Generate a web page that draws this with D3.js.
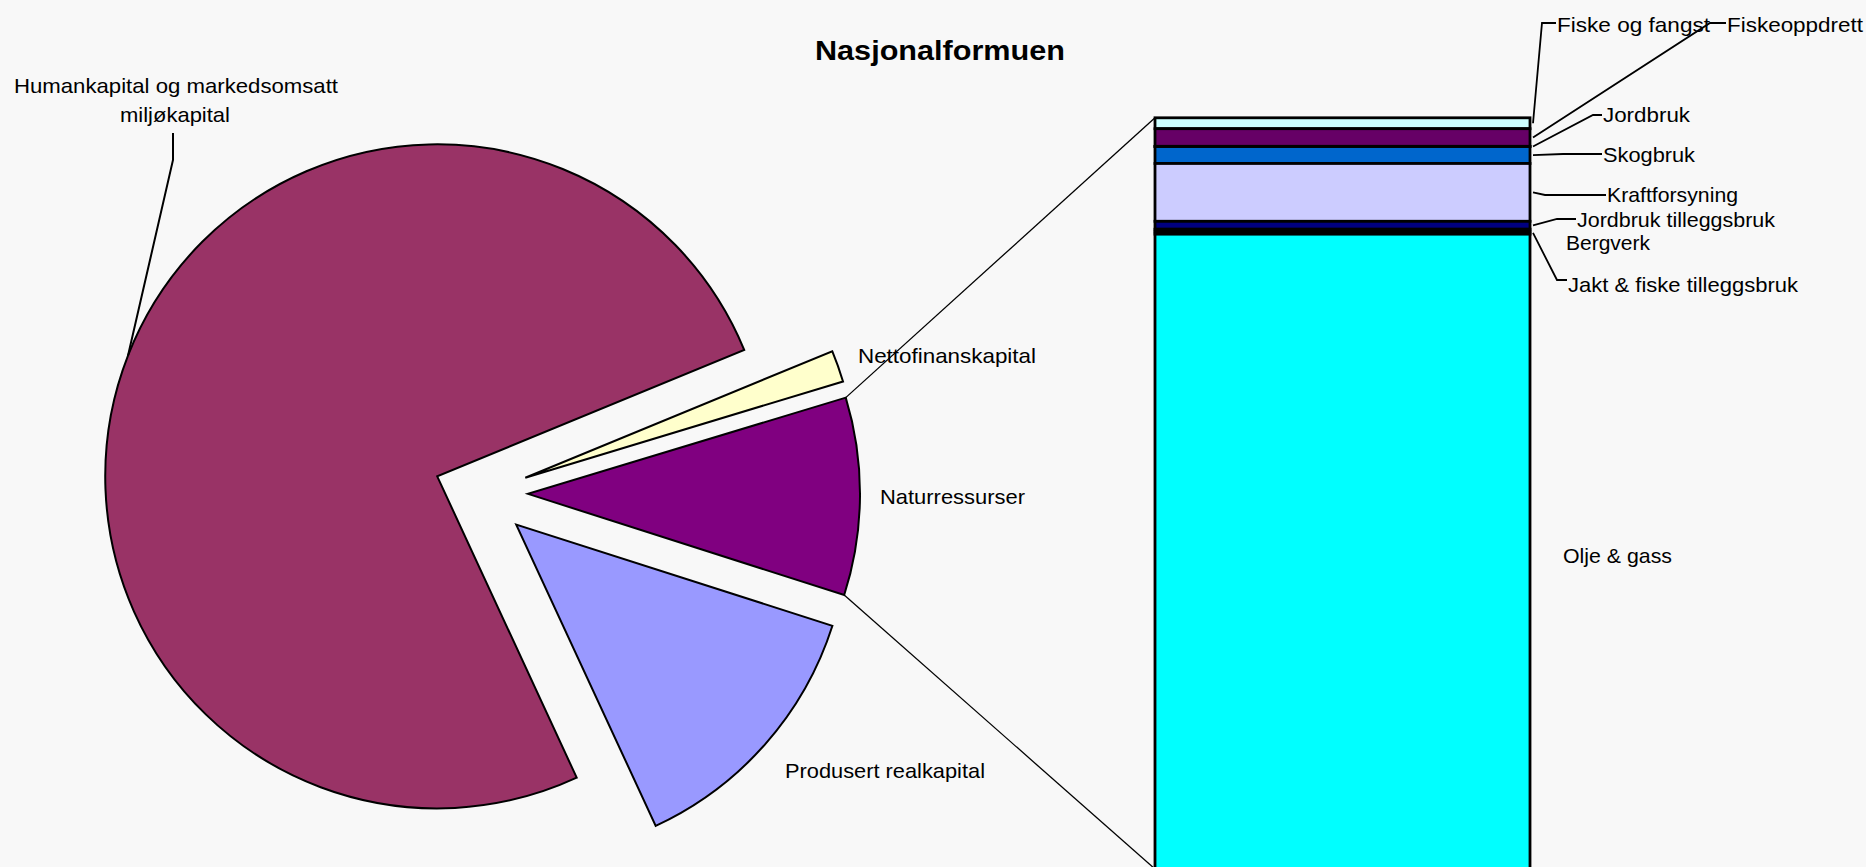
<!DOCTYPE html>
<html><head><meta charset="utf-8">
<script src="https://cdn.jsdelivr.net/npm/d3@7"></script>
<style>html,body{margin:0;padding:0;background:#F8F8F8;overflow:hidden}</style>
</head><body>
<svg id="chart" width="1866" height="867"></svg>
<script>
// ---------- DATA ----------
const title = "Nasjonalformuen";
const pieCategories = ["Naturressurser", "Produsert realkapital", "Humankapital og markedsomsatt miljøkapital", "Nettofinanskapital"];
const pieValues = [9.61, 13.17, 75.68, 1.54];               // % of national wealth
const pieColors = ["#800080", "#9999FF", "#993366", "#FFFFCC"];
const barCategories = ["Fiske og fangst", "Fiskeoppdrett", "Jordbruk", "Skogbruk", "Kraftforsyning",
  "Jordbruk tilleggsbruk", "Bergverk", "Jakt & fiske tilleggsbruk", "Olje & gass"];
const barValues = [1.45, 2.35, 0.03, 2.25, 7.7, 1.05, 0.33, 0.33, 84.5];   // % of Naturressurser
const barColors = ["#CCFFFF", "#660066", "#FF8080", "#0066CC", "#CCCCFF", "#000080", "#FF00FF", "#FFFF00", "#00FFFF"];

// ---------- LAYOUT ----------
const W = 1866, H = 867;
const pieCenter = [481, 493.5], R = 332, explode = 47;
const startDeg = 73.15; // d3 angle where the split slice starts
const barBox = {x0: 1155, x1: 1530, top: 117.8, bottom: 869};
const font = "'Liberation Sans', Arial, sans-serif";
const fs = 21;

const svg = d3.select("#chart");
svg.append("rect").attr("width", W).attr("height", H).attr("fill", "#F8F8F8");

// title
svg.append("text").text(title)
  .attr("x", 815).attr("y", 60).attr("textLength", 250).attr("lengthAdjust", "spacingAndGlyphs")
  .attr("font-family", font).attr("font-weight", "bold").attr("font-size", 27).attr("fill", "#000");

// ---------- PIE ----------
const s0 = startDeg * Math.PI / 180;
const pie = d3.pie().sort(null).value(d => d).startAngle(s0).endAngle(s0 + 2 * Math.PI);
const arcs = pie(pieValues);
const arc = d3.arc().innerRadius(0).outerRadius(R);
function offset(a) {
  const m = (a.startAngle + a.endAngle) / 2;
  return [pieCenter[0] + explode * Math.sin(m), pieCenter[1] - explode * Math.cos(m)];
}
function polar(o, ang, r) { return [o[0] + r * Math.sin(ang), o[1] - r * Math.cos(ang)]; }

// bar scales
const barX = d3.scaleBand().domain(["Naturressurser"]).range([barBox.x0, barBox.x1]).padding(0);
const total = d3.sum(barValues);
const y = d3.scaleLinear().domain([0, total]).range([barBox.top, barBox.bottom]);
const cum = [0, ...d3.cumsum(barValues)];

// connector lines from split slice to the bar
const split = arcs[0], so = offset(split);
const cTop = polar(so, split.startAngle, R), cBot = polar(so, split.endAngle, R);
const bx = barX("Naturressurser");
svg.append("line").attr("x1", cTop[0]).attr("y1", cTop[1]).attr("x2", bx).attr("y2", y(0))
  .attr("stroke", "#000").attr("stroke-width", 1.3);
svg.append("line").attr("x1", cBot[0]).attr("y1", cBot[1]).attr("x2", bx).attr("y2", y(total))
  .attr("stroke", "#000").attr("stroke-width", 1.3);

svg.append("g").selectAll("path").data(arcs).join("path")
  .attr("d", arc)
  .attr("transform", d => `translate(${offset(d)})`)
  .attr("fill", (d, i) => pieColors[i])
  .attr("stroke", "#000").attr("stroke-width", 2).attr("stroke-linejoin", "miter");

// pie labels
const pieLabelLayout = [
  {lines: [[880, 504.3, 145]]},
  {lines: [[785, 778, 200]]},
  {lines: [[14, 93.3, 324], [120, 121.7, 110]], leader: [[173, 133], [173, 160]]},
  {lines: [[858, 363.3, 178]]}
];
const humanWords = ["Humankapital og markedsomsatt", "miljøkapital"];
pieLabelLayout.forEach((L, i) => {
  const texts = i === 2 ? humanWords : [pieCategories[i]];
  L.lines.forEach((ln, j) => {
    svg.append("text").text(texts[j]).attr("x", ln[0]).attr("y", ln[1])
      .attr("textLength", ln[2]).attr("lengthAdjust", "spacingAndGlyphs")
      .attr("font-family", font).attr("font-size", fs).attr("fill", "#000");
  });
  if (L.leader) {
    const a = arcs[i], o = offset(a), m = (a.startAngle + a.endAngle) / 2;
    const end = polar(o, m, R);
    svg.append("polyline").attr("points", [...L.leader, end].map(p => p.join(",")).join(" "))
      .attr("fill", "none").attr("stroke", "#000").attr("stroke-width", 2);
  }
});

// ---------- BAR ----------
svg.append("g").selectAll("rect").data(barValues).join("rect")
  .attr("x", bx).attr("width", barX.bandwidth())
  .attr("y", (d, i) => y(cum[i])).attr("height", (d, i) => y(cum[i + 1]) - y(cum[i]))
  .attr("fill", (d, i) => barColors[i])
  .attr("stroke", "#000").attr("stroke-width", 2.8);

// bar labels
const barLabelLayout = [
  {x: 1557, y: 31.7, w: 153, lineY: 23, elbow: 1542},
  {x: 1727, y: 31.7, w: 136, lineY: 23, elbow: 1710},
  {x: 1603, y: 121.7, w: 87, lineY: 115, elbow: 1593},
  {x: 1603, y: 161.7, w: 92, lineY: 154, elbow: 1563},
  {x: 1607, y: 202.3, w: 131, lineY: 195, elbow: 1545},
  {x: 1577, y: 226.5, w: 198, lineY: 219, elbow: 1557},
  {x: 1566, y: 250, w: 84},
  {x: 1568, y: 291.7, w: 230, lineY: 280, elbow: 1557},
  {x: 1563, y: 562.7, w: 109}
];
barLabelLayout.forEach((L, i) => {
  if (L.lineY !== undefined) {
    const mid = y((cum[i] + cum[i + 1]) / 2);
    const pts = [[L.x - 1, L.lineY], [L.elbow, L.lineY], [barBox.x1 + 3, mid]];
    svg.append("polyline").attr("points", pts.map(p => p.join(",")).join(" "))
      .attr("fill", "none").attr("stroke", "#000").attr("stroke-width", 1.8);
  }
  svg.append("text").text(barCategories[i]).attr("x", L.x).attr("y", L.y)
    .attr("textLength", L.w).attr("lengthAdjust", "spacingAndGlyphs")
    .attr("font-family", font).attr("font-size", fs).attr("fill", "#000");
});
</script>
</body></html>
